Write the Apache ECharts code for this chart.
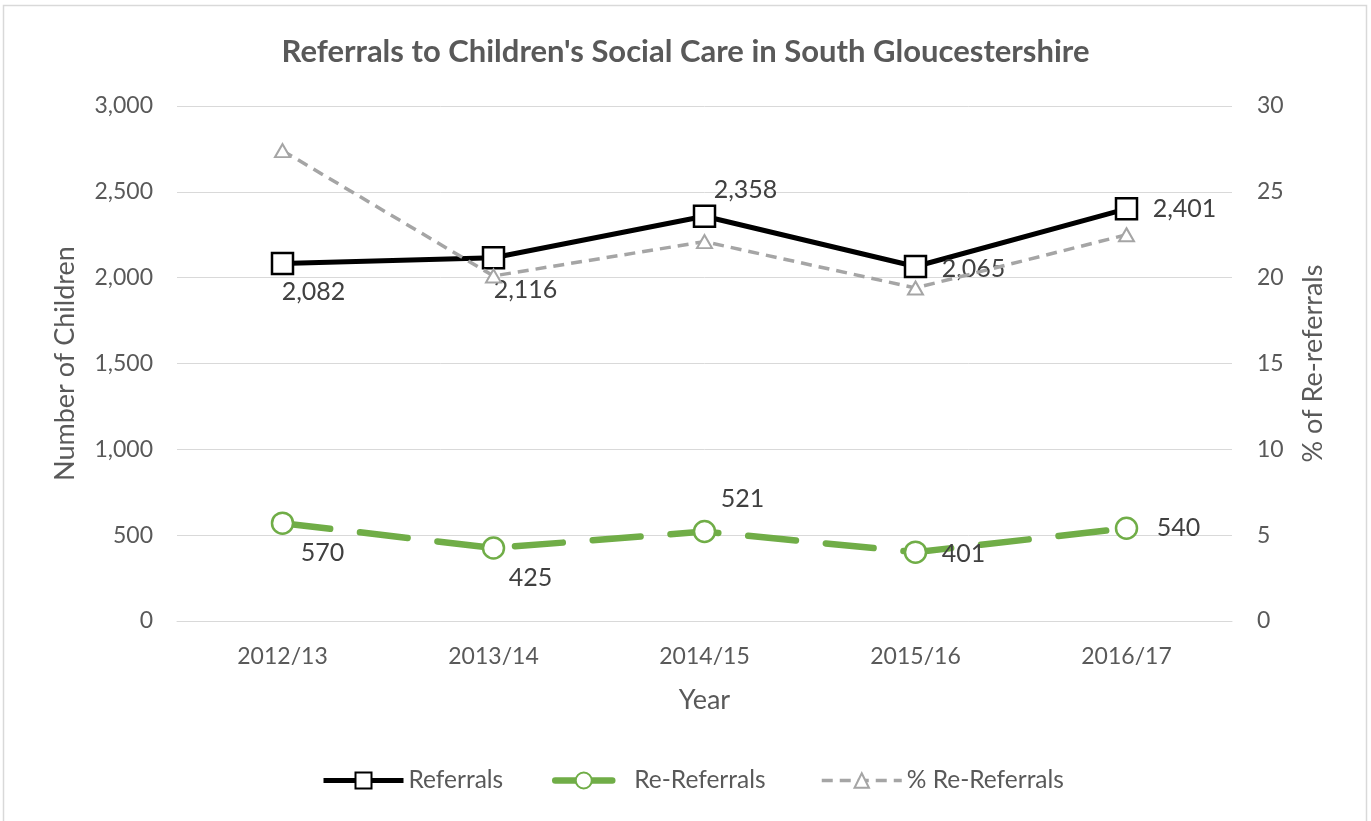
<!DOCTYPE html>
<html>
<head>
<meta charset="utf-8">
<title>Referrals to Children's Social Care in South Gloucestershire</title>
<script src="https://cdn.jsdelivr.net/npm/echarts@6/dist/echarts.min.js"></script>
<style>
  html, body { margin: 0; padding: 0; background: #ffffff; }
  #chart { width: 1371px; height: 821px; }
</style>
</head>
<body>
<div id="chart"></div>
<script>
// Years on the category axis
const years = ['2012/13', '2013/14', '2014/15', '2015/16', '2016/17'];

// Number of children referred / re-referred
const referrals = [2082, 2116, 2358, 2065, 2401];
const reReferrals = [570, 425, 521, 401, 540];

// Re-referrals as a percentage of referrals
const pctReReferrals = [27.4, 20.1, 22.1, 19.4, 22.5];

// Axis tick settings
const leftAxisMax = 3000, leftAxisStep = 500;
const rightAxisMax = 30, rightAxisStep = 5;

// Per-point label nudges (pixels from the marker centre)
const referralLabelNudge = [[31, 28], [32, 32], [41, -26], [58, 2], [58, 0]];
const reReferralLabelNudge = [[40, 30], [37, 30], [38, -33], [48, 2], [52, 0]];

const FONT = 'Lato, "Open Sans", sans-serif';
const GREY_TEXT = '#595959';
const LABEL_TEXT = '#404040';

const fmt = v => Number(v).toLocaleString('en-US');

function withLabels(values, nudges) {
  return values.map((v, i) => ({
    value: v,
    label: { offset: nudges[i] }
  }));
}

const chart = echarts.init(document.getElementById('chart'), null, { renderer: 'canvas' });

const legendText = { color: GREY_TEXT, fontFamily: FONT, fontSize: 24.5 };
const axisNameText = { color: GREY_TEXT, fontFamily: FONT, fontSize: 27 };
const tickText = { color: GREY_TEXT, fontFamily: FONT, fontSize: 23 };

chart.setOption({
  backgroundColor: '#ffffff',
  animation: false,
  graphic: [{
    type: 'rect',
    shape: { x: 3.5, y: 5.5, width: 1363, height: 840 },
    style: { fill: 'none', stroke: '#d9d9d9', lineWidth: 1.5 },
    silent: true,
    z: -10
  }],
  title: {
    text: "Referrals to Children's Social Care in South Gloucestershire",
    left: 'center',
    top: 31,
    textStyle: { color: GREY_TEXT, fontFamily: FONT, fontSize: 31, fontWeight: 'bold' }
  },
  grid: { left: 177, right: 139, top: 106, bottom: 200, containLabel: false },
  legend: [
    {
      data: ['Referrals'], left: 316, top: 763, itemWidth: 80, itemHeight: 20, itemGap: 0,
      lineStyle: { width: 5 },
      textStyle: legendText
    },
    {
      data: ['Re-Referrals'], left: 547, top: 763, itemWidth: 57, itemHeight: 20, itemGap: 0,
      lineStyle: { width: 6.5, type: 'solid' },
      textStyle: Object.assign({ padding: [0, 0, 0, 17] }, legendText)
    },
    {
      data: ['% Re-Referrals'], left: 815, top: 763, itemWidth: 80, itemHeight: 18, itemGap: 0,
      lineStyle: { width: 3.5 },
      textStyle: legendText
    }
  ],
  xAxis: {
    type: 'category',
    data: years,
    boundaryGap: true,
    name: 'Year',
    nameLocation: 'middle',
    nameGap: 66,
    nameTextStyle: axisNameText,
    axisLine: { show: true, lineStyle: { color: '#d9d9d9', width: 1 } },
    axisTick: { show: false },
    axisLabel: Object.assign({ margin: 24 }, tickText)
  },
  yAxis: [
    {
      type: 'value',
      min: 0, max: leftAxisMax, interval: leftAxisStep,
      name: 'Number of Children',
      nameLocation: 'middle',
      nameGap: 98,
      nameTextStyle: axisNameText,
      axisLine: { show: false },
      axisTick: { show: false },
      splitLine: { show: true, lineStyle: { color: '#d9d9d9', width: 1 } },
      axisLabel: Object.assign({ margin: 24, formatter: fmt }, tickText)
    },
    {
      type: 'value',
      min: 0, max: rightAxisMax, interval: rightAxisStep,
      name: '% of Re-referrals',
      nameLocation: 'middle',
      nameGap: 68,
      nameTextStyle: axisNameText,
      axisLine: { show: false },
      axisTick: { show: false },
      splitLine: { show: false },
      axisLabel: Object.assign({ margin: 25 }, tickText)
    }
  ],
  series: [
    {
      name: 'Referrals',
      type: 'line',
      yAxisIndex: 0,
      data: withLabels(referrals, referralLabelNudge),
      symbol: 'rect',
      symbolSize: 21,
      showAllSymbol: true,
      lineStyle: { color: '#000000', width: 5 },
      itemStyle: { color: '#ffffff', borderColor: '#000000', borderWidth: 2.5 },
      label: {
        show: true, position: 'inside', formatter: p => fmt(p.value),
        color: LABEL_TEXT, fontFamily: FONT, fontSize: 25
      },
      z: 3
    },
    {
      name: 'Re-Referrals',
      type: 'line',
      yAxisIndex: 0,
      data: withLabels(reReferrals, reReferralLabelNudge),
      symbol: 'circle',
      symbolSize: 21,
      showAllSymbol: true,
      lineStyle: { color: '#70ad47', width: 6.5, type: [48, 30], cap: 'round' },
      itemStyle: { color: '#ffffff', borderColor: '#70ad47', borderWidth: 2.5 },
      label: {
        show: true, position: 'inside', formatter: p => fmt(p.value),
        color: LABEL_TEXT, fontFamily: FONT, fontSize: 25
      },
      z: 3
    },
    {
      name: '% Re-Referrals',
      type: 'line',
      yAxisIndex: 1,
      data: pctReReferrals,
      symbol: 'triangle',
      symbolSize: [15, 13],
      showAllSymbol: true,
      lineStyle: { color: '#a5a5a5', width: 3.5, type: [11, 7] },
      itemStyle: { color: '#ffffff', borderColor: '#a5a5a5', borderWidth: 2 },
      label: { show: false },
      z: 4
    }
  ]
});
</script>
</body>
</html>
